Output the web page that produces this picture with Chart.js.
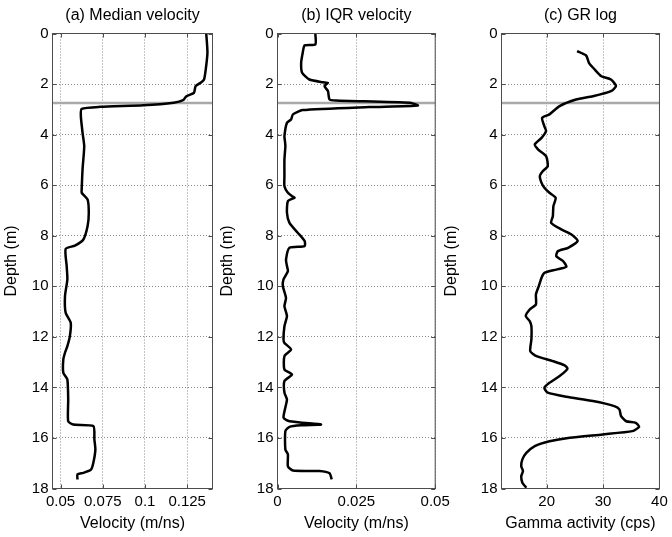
<!DOCTYPE html>
<html>
<head>
<meta charset="utf-8">
<title>Velocity and GR logs</title>
<script src="https://cdn.jsdelivr.net/npm/chart.js@4.4.1/dist/chart.umd.min.js"></script>
<style>
  html, body { margin: 0; padding: 0; background: #fff; }
  body { width: 672px; height: 537px; position: relative; overflow: hidden; }
  canvas { position: absolute; top: 0; }
</style>
</head>
<body>
<canvas id="chartA" width="230" height="537" style="left:0px"></canvas>
<canvas id="chartB" width="236" height="537" style="left:218px"></canvas>
<canvas id="chartC" width="230" height="537" style="left:442px"></canvas>
<script>
// ---------------------------------------------------------------------------
// Data (depth in m)
// ---------------------------------------------------------------------------
const boundaryDepth = 2.75;

const depthTicks = [0, 2, 4, 6, 8, 10, 12, 14, 16, 18];

// (a) Median velocity (m/ns)
const medianDepth = [0, 0.76, 1.42, 1.82, 1.95, 2.08, 2.35, 2.48, 2.64, 2.74, 2.84, 2.90, 2.98,
    3.27, 3.92, 4.46, 5.38, 6.17, 6.30, 6.57, 7.09, 7.62, 8.15, 8.39, 8.52, 9.2, 9.73, 10.39,
    11.05, 11.44, 11.97, 12.37, 12.63, 12.9, 13.42, 13.69, 14.48, 15.34, 15.47, 15.53, 16.06,
    16.46, 16.98, 17.25, 17.38, 17.44, 17.64];
const medianVel = [0.1363, 0.137, 0.136, 0.135, 0.133, 0.130, 0.129, 0.1245, 0.1226, 0.117, 0.099,
    0.0734, 0.0625, 0.062, 0.063, 0.064, 0.063, 0.0625, 0.0625, 0.066, 0.0667, 0.066, 0.0635,
    0.0585, 0.053, 0.0536, 0.054, 0.0526, 0.053, 0.056, 0.0555, 0.054, 0.0526, 0.0516, 0.0516,
    0.054, 0.0545, 0.0545, 0.0575, 0.0694, 0.070, 0.0706, 0.0694, 0.068, 0.0635, 0.060, 0.060];
const medianTicks = [0.05, 0.075, 0.1, 0.125];
const medianTickLabels = ['0.05', '0.075', '0.1', '0.125'];

// (b) IQR velocity (m/ns)
const iqrDepth = [0, 0.43, 0.47, 0.76, 1.16, 1.55, 1.82, 1.93, 1.95, 2.08, 2.28, 2.61, 2.65, 2.74,
    2.85, 2.91, 3.03, 3.2, 3.4, 3.53, 4.06, 4.3, 4.46, 4.98, 5.64, 6.04, 6.3, 6.45, 6.5, 6.63,
    7.09, 7.49, 7.88, 8.21, 8.41, 8.48, 8.94, 9.2, 9.4, 9.73, 10.0, 10.46, 10.79, 11.18, 11.58,
    12.1, 12.24, 12.5, 12.76, 13.29, 13.49, 13.75, 14.21, 14.48, 15.2, 15.34, 15.47, 15.5, 15.56,
    15.73, 16.46, 16.65, 17.12, 17.29, 17.31, 17.4, 17.64];
const iqrVel = [0.012, 0.012, 0.0086, 0.008, 0.0075, 0.0078, 0.0101, 0.0144, 0.016, 0.0149, 0.016,
    0.0165, 0.0186, 0.042, 0.0445, 0.029, 0.008, 0.0049, 0.0043, 0.003, 0.0022, 0.0024, 0.0025,
    0.0022, 0.0022, 0.0022, 0.0033, 0.0048, 0.0054, 0.0033, 0.003, 0.0038, 0.0064, 0.0086, 0.0086,
    0.0038, 0.0027, 0.003, 0.0033, 0.0019, 0.0017, 0.0027, 0.0022, 0.003, 0.0022, 0.0019, 0.0022,
    0.0043, 0.0022, 0.0022, 0.0046, 0.0022, 0.0022, 0.003, 0.0019, 0.0038, 0.0138, 0.0075, 0.0038,
    0.0025, 0.0025, 0.0033, 0.0033, 0.0049, 0.0133, 0.0165, 0.0172];
const iqrTicks = [0, 0.025, 0.05];
const iqrTickLabels = ['0', '0.025', '0.05'];

// (c) GR log (cps)
const grDepth = [0.70, 0.87, 1.16, 1.42, 1.69, 1.82, 2.08, 2.28, 2.48, 2.61, 2.87, 3.2, 3.34, 3.67,
    3.86, 4.13, 4.39, 4.59, 4.85, 5.25, 5.45, 5.64, 5.91, 6.1, 6.3, 6.5, 6.83, 7.23, 7.49, 7.75,
    7.95, 8.21, 8.48, 8.61, 8.81, 9.0, 9.23, 9.34, 9.47, 9.66, 10.0, 10.32, 10.72, 10.92, 11.18,
    11.38, 11.58, 12.1, 12.57, 12.76, 12.96, 13.13, 13.26, 13.55, 13.82, 14.02, 14.21, 14.37,
    14.54, 14.74, 14.87, 15.14, 15.34, 15.4, 15.56, 15.73, 15.86, 15.99, 16.13, 16.32, 16.59,
    16.85, 17.12, 17.31, 17.51, 17.77, 17.97];
const grCps = [25.4, 27.0, 27.5, 28.5, 29.7, 31.4, 32.3, 31.4, 28.2, 25.2, 22.3, 20.5, 19.2, 19.6,
    19.9, 19.1, 17.9, 18.5, 19.9, 20.2, 19.3, 18.8, 19.1, 19.6, 20.5, 21.6, 21.2, 21.1, 20.8, 22.6,
    24.4, 25.5, 23.8, 22.0, 21.7, 22.9, 23.5, 21.7, 19.6, 19.1, 18.6, 18.1, 18.1, 17.0, 16.3,
    17.0, 17.3, 17.3, 17.1, 18.2, 21.1, 23.2, 23.7, 22.3, 20.5, 19.6, 20.2, 23.5,
    28.2, 32.0, 32.9, 33.2, 34.1, 35.8, 36.4, 35.2, 29.9, 24.1, 20.5, 17.9, 16.4,
    15.7, 15.5, 15.8, 15.5, 15.7, 16.4];
const grTicks = [20, 30, 40];
const grTickLabels = ['20', '30', '40'];

// ---------------------------------------------------------------------------
// Shared styling
// ---------------------------------------------------------------------------
const FONT = "'Liberation Sans', Arial, Helvetica, sans-serif";
const AXIS_COLOR = '#4d4d4d';
const GRID_COLOR = '#8a8a8a';

// draws the closed box and inward tick marks, matlab style
const boxPlugin = {
    id: 'matlabBox',
    afterDraw(chart) {
        const { ctx, chartArea: a, scales: { x, y } } = chart;
        const len = 4;
        ctx.save();
        ctx.strokeStyle = AXIS_COLOR;
        ctx.lineWidth = 1;
        ctx.strokeRect(a.left, a.top, a.right - a.left, a.bottom - a.top);
        ctx.beginPath();
        x.ticks.forEach(t => {
            const px = Math.round(x.getPixelForValue(t.value)) + 0.5;
            ctx.moveTo(px, a.bottom); ctx.lineTo(px, a.bottom - len);
            ctx.moveTo(px, a.top); ctx.lineTo(px, a.top + len);
        });
        y.ticks.forEach(t => {
            const py = Math.round(y.getPixelForValue(t.value)) + 0.5;
            ctx.moveTo(a.left, py); ctx.lineTo(a.left + len, py);
            ctx.moveTo(a.right, py); ctx.lineTo(a.right - len, py);
        });
        ctx.stroke();
        ctx.restore();
    }
};

function makePanel(canvasId, p) {
    const ctx = document.getElementById(canvasId)?.getContext('2d');
    if (!ctx) return null;

    const points = p.depth.map((d, i) => ({ x: p.values[i], y: d }));

    return new Chart(ctx, {
        type: 'scatter',
        data: {
            datasets: [
                {
                    data: points,
                    showLine: true,
                    borderColor: '#000',
                    borderWidth: 2.5,
                    pointRadius: 0,
                    tension: 0.2,
                    order: 1
                },
                {
                    // interface line across the whole panel
                    data: [{ x: p.xMin, y: boundaryDepth }, { x: p.xMax, y: boundaryDepth }],
                    showLine: true,
                    borderColor: '#a9a9a9',
                    borderWidth: 2.5,
                    pointRadius: 0,
                    clip: 0,
                    order: 2
                }
            ]
        },
        options: {
            responsive: false,
            animation: false,
            layout: { padding: { left: 0, right: p.padRight, top: 0, bottom: 0 } },
            plugins: {
                legend: { display: false },
                tooltip: { enabled: false },
                title: {
                    display: true,
                    text: p.title,
                    fullSize: false,
                    color: '#000',
                    font: { family: FONT, size: 16, weight: 'normal' },
                    padding: { top: 6.4, bottom: 7.9 }
                }
            },
            scales: {
                x: {
                    type: 'linear',
                    position: 'bottom',
                    min: p.xMin,
                    max: p.xMax,
                    afterBuildTicks: s => { s.ticks = p.xTicks.map(v => ({ value: v })); },
                    afterFit: s => { s.height = 48.5; },
                    grid: { color: GRID_COLOR, lineWidth: 1, drawTicks: false },
                    border: { color: AXIS_COLOR, width: 1, dash: [1, 2] },
                    ticks: {
                        autoSkip: false,
                        maxRotation: 0,
                        padding: 4.2,
                        color: '#000',
                        font: { family: FONT, size: 15 },
                        callback: (v, i) => p.xLabels[i]
                    },
                    title: {
                        display: true,
                        text: p.xTitle,
                        color: '#000',
                        font: { family: FONT, size: 16 },
                        padding: { top: 0, bottom: 4 }
                    }
                },
                y: {
                    type: 'linear',
                    position: 'left',
                    reverse: true,
                    min: 0,
                    max: 18,
                    afterBuildTicks: s => { s.ticks = depthTicks.map(v => ({ value: v })); },
                    afterFit: s => { s.width = p.yWidth; },
                    grid: { color: GRID_COLOR, lineWidth: 1, drawTicks: false },
                    border: { color: AXIS_COLOR, width: 1, dash: [1, 2] },
                    ticks: {
                        autoSkip: false,
                        padding: 4,
                        color: '#000',
                        font: { family: FONT, size: 15 },
                        callback: v => String(v)
                    },
                    title: {
                        display: true,
                        text: 'Depth (m)',
                        color: '#000',
                        font: { family: FONT, size: 16 },
                        padding: { top: p.yTitlePad, bottom: 0 }
                    }
                }
            }
        },
        plugins: [boxPlugin]
    });
}

makePanel('chartA', {
    title: '(a) Median velocity',
    xTitle: 'Velocity (m/ns)',
    depth: medianDepth, values: medianVel,
    xMin: 0.0452, xMax: 0.14,
    xTicks: medianTicks, xLabels: medianTickLabels,
    yWidth: 52.5, yTitlePad: 2.4, padRight: 17.5
});

makePanel('chartB', {
    title: '(b) IQR velocity',
    xTitle: 'Velocity (m/ns)',
    depth: iqrDepth, values: iqrVel,
    xMin: 0, xMax: 0.05,
    xTicks: iqrTicks, xLabels: iqrTickLabels,
    yWidth: 59.5, yTitlePad: 0.4, padRight: 18.5
});

makePanel('chartC', {
    title: '(c) GR log',
    xTitle: 'Gamma activity (cps)',
    depth: grDepth, values: grCps,
    xMin: 12, xMax: 40,
    xTicks: grTicks, xLabels: grTickLabels,
    yWidth: 59.5, yTitlePad: 0.4, padRight: 11.5
});
</script>
</body>
</html>
